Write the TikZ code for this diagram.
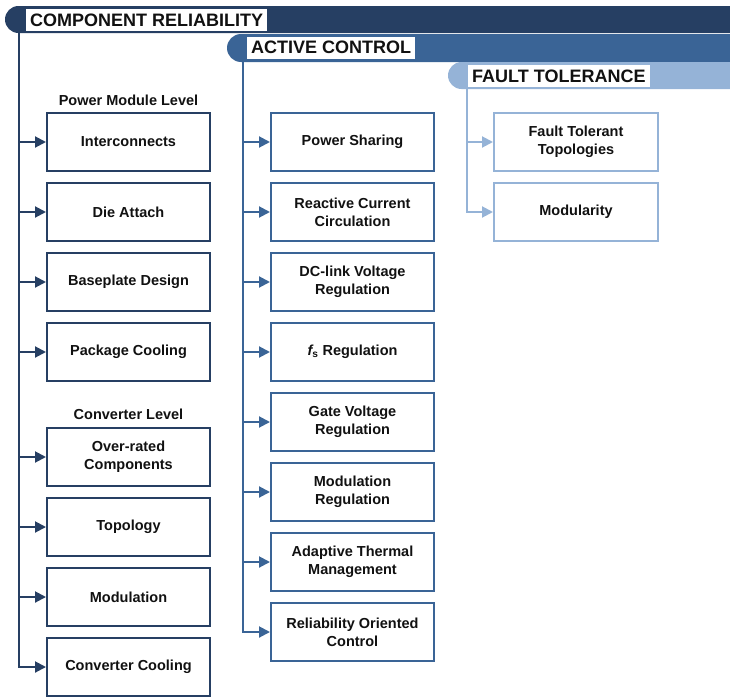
\documentclass[tikz,border=0pt]{standalone}
\usepackage{fontspec}
\setmainfont{Liberation Sans}
\usetikzlibrary{arrows.meta}
\definecolor{navy}{HTML}{263F63}
\definecolor{midblue}{HTML}{3A6496}
\definecolor{lightblue}{HTML}{95B3D7}
\definecolor{ink}{HTML}{111111}

\begin{document}
\begin{tikzpicture}[x=1pt,y=-1pt,
  itembox/.style={draw=#1, line width=2pt, fill=white, minimum width=163pt,
    minimum height=58pt, inner sep=2pt, align=center, text=ink,
    font=\fontsize{14.5}{18}\selectfont\bfseries},
  headtext/.style={fill=white, anchor=west, inner xsep=4pt, inner ysep=0pt,
    minimum height=22pt, text=ink, font=\fontsize{18}{20}\selectfont\bfseries},
  sublabel/.style={text=ink, font=\fontsize{14.5}{18}\selectfont\bfseries},
  feed/.style={draw=#1, line width=2pt, -{Triangle[length=11pt,width=11pt]}},
]
\useasboundingbox (0,0) rectangle (730,696);
\clip (0,0) rectangle (730,696);

% title bars, each running off the right edge
\fill[navy, rounded corners=13.5pt] (5,6) rectangle (770,33);
\fill[midblue, rounded corners=14pt] (227,34) rectangle (770,62);
\fill[lightblue, rounded corners=13.5pt] (448,62) rectangle (770,89);

\node[headtext] (hcr) at (26,20) {COMPONENT RELIABILITY};
\node[headtext] (hac) at (247,47.5) {ACTIVE CONTROL};
\node[headtext] (hft) at (468,76) {FAULT TOLERANCE};

\coordinate (t1) at (19,33);
\coordinate (t2) at (243,62);
\coordinate (t3) at (467,89);

% component reliability
\node[sublabel] (pml) at (128.5,100) {Power Module Level};
\node[itembox=navy] (ic) at (128.5,142) {Interconnects};
\node[itembox=navy] (da) at (128.5,212) {Die Attach};
\node[itembox=navy] (bp) at (128.5,282) {Baseplate Design};
\node[itembox=navy] (pc) at (128.5,352) {Package Cooling};
\node[sublabel] (cvl) at (128.5,414) {Converter Level};
\node[itembox=navy] (or) at (128.5,457) {Over-rated\\Components};
\node[itembox=navy] (tp) at (128.5,527) {Topology};
\node[itembox=navy] (md) at (128.5,597) {Modulation};
\node[itembox=navy] (cc) at (128.5,667) {Converter Cooling};

% active control
\node[itembox=midblue] (ps) at (352.5,142) {Power Sharing};
\node[itembox=midblue] (rc) at (352.5,212) {Reactive Current\\Circulation};
\node[itembox=midblue] (dc) at (352.5,282) {DC-link Voltage\\Regulation};
\node[itembox=midblue] (fs) at (352.5,352) {{\itshape f}\textsubscript{s} Regulation};
\node[itembox=midblue] (gv) at (352.5,422) {Gate Voltage\\Regulation};
\node[itembox=midblue] (mr) at (352.5,492) {Modulation\\Regulation};
\node[itembox=midblue] (at) at (352.5,562) {Adaptive Thermal\\Management};
\node[itembox=midblue] (ro) at (352.5,632) {Reliability Oriented\\Control};

% fault tolerance
\node[itembox=lightblue, minimum width=164pt] (ftt) at (576,142) {Fault Tolerant\\Topologies};
\node[itembox=lightblue, minimum width=164pt] (mo) at (576,212) {Modularity};

% trunks and branches
\draw[feed=navy] (t1) |- (cc.west);
\foreach \n in {ic,da,bp,pc,or,tp,md}
  \draw[feed=navy] (t1 |- \n.west) -- (\n.west);

\draw[feed=midblue] (t2) |- (ro.west);
\foreach \n in {ps,rc,dc,fs,gv,mr,at}
  \draw[feed=midblue] (t2 |- \n.west) -- (\n.west);

\draw[feed=lightblue] (t3) |- (mo.west);
\draw[feed=lightblue] (t3 |- ftt.west) -- (ftt.west);
\end{tikzpicture}
\end{document}
